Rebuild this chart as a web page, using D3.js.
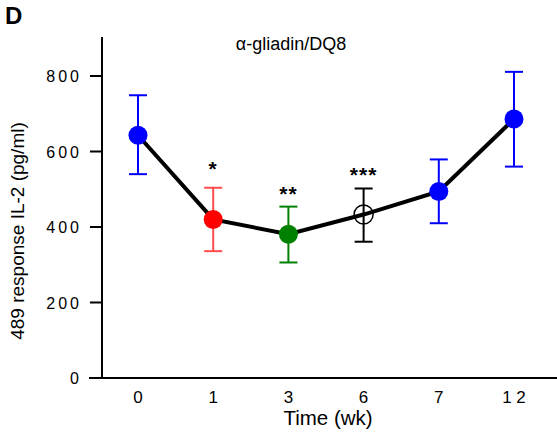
<!DOCTYPE html>
<html>
<head>
<meta charset="utf-8">
<script src="https://cdn.jsdelivr.net/npm/d3@7"></script>
<style>
  body { margin: 0; background: #fff; }
  text { font-family: "Liberation Sans", Arial, sans-serif; }
</style>
</head>
<body>
<svg></svg>
<script>
// data
const weeks = ["0", "1", "3", "6", "7", "1 2"];
const means = [643, 420, 381, 433, 494, 686];
const upper = [749, 504, 454, 502, 579, 811];
const lower = [540, 336, 306, 361, 410, 560];
const dotColors = ["#0000ff", "#ff0000", "#008000", "none", "#0000ff", "#0000ff"];
const barColors = ["#0000ff", "#ff4d4d", "#008000", "#000000", "#0000ff", "#0000ff"];
const stars = ["", "*", "**", "***", "", ""];
const yTicks = [0, 200, 400, 600, 800];

const width = 557, height = 439;
const svg = d3.select("svg")
  .attr("width", width)
  .attr("height", height);

const points = weeks.map((w, i) => ({
  week: w, mean: means[i], hi: upper[i], lo: lower[i],
  fill: dotColors[i], bar: barColors[i], star: stars[i]
}));

// scales
const x = d3.scalePoint()
  .domain(weeks)
  .range([138, 514]);

const y = d3.scaleLinear()
  .domain([0, 800])
  .range([378, 76]);

// y axis
svg.append("line")
  .attr("x1", 102).attr("x2", 102)
  .attr("y1", 37).attr("y2", 378)
  .attr("stroke", "#000").attr("stroke-width", 2);

svg.selectAll(".ytick")
  .data(yTicks)
  .enter().append("line")
  .attr("x1", 90).attr("x2", 102)
  .attr("y1", d => y(d)).attr("y2", d => y(d))
  .attr("stroke", "#000").attr("stroke-width", 2);

svg.selectAll(".ylab")
  .data(yTicks)
  .enter().append("text")
  .attr("x", 82)
  .attr("y", d => y(d) + 6)
  .attr("text-anchor", "end")
  .attr("font-size", 16)
  .attr("letter-spacing", "3px")
  .text(d => d);

// x axis
svg.append("line")
  .attr("x1", 89).attr("x2", width)
  .attr("y1", 378).attr("y2", 378)
  .attr("stroke", "#000").attr("stroke-width", 2);

svg.selectAll(".xlab")
  .data(weeks)
  .enter().append("text")
  .attr("x", d => x(d))
  .attr("y", 403)
  .attr("text-anchor", "middle")
  .attr("font-size", 17)
  .text(d => d);

// axis titles
svg.append("text")
  .attr("x", 328).attr("y", 425)
  .attr("text-anchor", "middle")
  .attr("font-size", 20.5)
  .text("Time (wk)");

svg.append("text")
  .attr("transform", "translate(24,231) rotate(-90)")
  .attr("text-anchor", "middle")
  .attr("font-size", 19)
  .text("489 response IL-2 (pg/ml)");

svg.append("text")
  .attr("x", 291).attr("y", 50)
  .attr("text-anchor", "middle")
  .attr("font-size", 18)
  .text("α-gliadin/DQ8");

svg.append("text")
  .attr("x", 5).attr("y", 24)
  .attr("font-size", 24)
  .attr("font-weight", "bold")
  .text("D");

// error bars
const bars = svg.selectAll(".err")
  .data(points)
  .enter().append("g")
  .attr("stroke", d => d.bar)
  .attr("stroke-width", 2);

bars.append("line")
  .attr("x1", d => x(d.week)).attr("x2", d => x(d.week))
  .attr("y1", d => y(d.hi)).attr("y2", d => y(d.lo));
bars.append("line")
  .attr("x1", d => x(d.week) - 9).attr("x2", d => x(d.week) + 9)
  .attr("y1", d => y(d.hi)).attr("y2", d => y(d.hi));
bars.append("line")
  .attr("x1", d => x(d.week) - 9).attr("x2", d => x(d.week) + 9)
  .attr("y1", d => y(d.lo)).attr("y2", d => y(d.lo));

// mean line
const line = d3.line()
  .x(d => x(d.week))
  .y(d => y(d.mean));

svg.append("path")
  .datum(points)
  .attr("d", line)
  .attr("fill", "none")
  .attr("stroke", "#000")
  .attr("stroke-width", 4);

// dots
svg.selectAll(".dot")
  .data(points)
  .enter().append("circle")
  .attr("cx", d => x(d.week))
  .attr("cy", d => y(d.mean))
  .attr("r", 9.5)
  .attr("fill", d => d.fill === "none" ? "rgba(255,255,255,0)" : d.fill)
  .attr("stroke", d => d.fill === "none" ? "#000" : "none")
  .attr("stroke-width", 1.5);

// significance stars
svg.selectAll(".star")
  .data(points.filter(d => d.star))
  .enter().append("text")
  .attr("x", d => x(d.week))
  .attr("y", d => y(d.hi) - (d.star === "*" ? 12 : 6))
  .attr("text-anchor", "middle")
  .attr("font-size", 21)
  .attr("font-weight", "bold")
  .attr("letter-spacing", "1px")
  .text(d => d.star);
</script>
</body>
</html>
